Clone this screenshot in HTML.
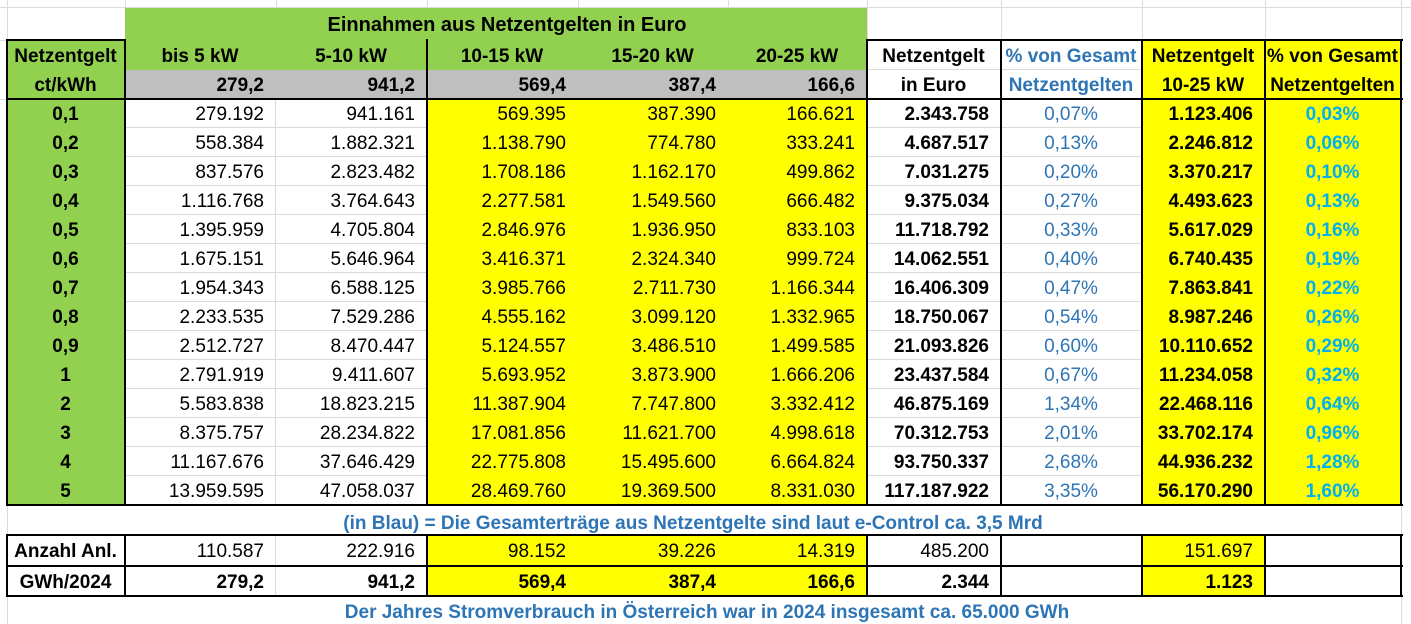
<!DOCTYPE html>
<html><head><meta charset="utf-8">
<style>
body{margin:0;width:1411px;height:624px;background:#fff;position:relative;overflow:hidden;font-family:"Liberation Sans",Arial,sans-serif;}
.grid{position:absolute;background:#dcdcdc;}
table{position:absolute;left:7px;top:40px;border-collapse:separate;border-spacing:0;table-layout:fixed;width:1394px;font-size:19px;}
td{padding:4px 11px 0 11px;white-space:nowrap;overflow:hidden;box-sizing:border-box;border-right:1px solid #dadada;border-bottom:1px solid #dadada;}
.g{background:#92d050;border-color:transparent;}
.y{background:#ffff00;border-color:transparent;}
.gr{background:#bfbfbf;border-color:transparent;}
.b{font-weight:bold;}
.c{text-align:center;}
.r{text-align:right;}
.bl{color:#2e75b6;}
.cy{color:#00b0f0;font-weight:bold;text-align:center;}
.h{position:absolute;background:#000;height:2px;}
.v{position:absolute;background:#000;width:2px;}
.note{position:absolute;font-weight:bold;color:#2e75b6;font-size:19px;white-space:nowrap;transform:translateX(-50%);}
</style></head><body>
<div class="grid" style="left:0;top:7px;width:1411px;height:1px"></div>
<div class="grid" style="left:7px;top:0;width:1px;height:40px"></div>
<div class="grid" style="left:125px;top:0;width:1px;height:8px"></div>
<div class="grid" style="left:276px;top:0;width:1px;height:8px"></div>
<div class="grid" style="left:427px;top:0;width:1px;height:8px"></div>
<div class="grid" style="left:578px;top:0;width:1px;height:8px"></div>
<div class="grid" style="left:728px;top:0;width:1px;height:8px"></div>
<div class="grid" style="left:867px;top:0;width:1px;height:40px"></div>
<div class="grid" style="left:1001px;top:0;width:1px;height:40px"></div>
<div class="grid" style="left:1142px;top:0;width:1px;height:40px"></div>
<div class="grid" style="left:1265px;top:0;width:1px;height:40px"></div>
<div class="grid" style="left:1401px;top:0;width:1px;height:624px"></div>
<div class="grid" style="left:0;top:40px;width:7px;height:1px"></div>
<div class="grid" style="left:0;top:99px;width:7px;height:1px"></div>
<div class="grid" style="left:7px;top:505px;width:1px;height:119px"></div>
<div style="position:absolute;left:125px;top:8px;width:742px;height:32px;background:#92d050"></div>
<div class="note" style="left:507px;top:14px;color:#000;font-size:20px">Einnahmen aus Netzentgelten in Euro</div>

<table>
<colgroup><col style="width:118px"><col style="width:151px"><col style="width:151px"><col style="width:151px"><col style="width:150px"><col style="width:139px"><col style="width:134px"><col style="width:141px"><col style="width:123px"><col style="width:136px"></colgroup>
<tr style="height:30px"><td class="g b c" style="padding:4px 0 0 0">Netzentgelt</td><td class="g b c">bis 5 kW</td><td class="g b c">5-10 kW</td><td class="g b c">10-15 kW</td><td class="g b c">15-20 kW</td><td class="g b c">20-25 kW</td><td class="b c">Netzentgelt</td><td class="b c bl" style="padding:4px 0 0 0">% von Gesamt</td><td class="y b c" style="padding:4px 0 0 0">Netzentgelt</td><td class="y b c" style="padding:4px 0 0 0">% von Gesamt</td></tr>
<tr style="height:29px"><td class="g b c">ct/kWh</td><td class="gr b r">279,2</td><td class="gr b r">941,2</td><td class="gr b r">569,4</td><td class="gr b r">387,4</td><td class="gr b r">166,6</td><td class="b c">in Euro</td><td class="b c bl" style="padding:4px 0 0 0">Netzentgelten</td><td class="y b c" style="padding:4px 0 0 0">10-25 kW</td><td class="y b c" style="padding:4px 0 0 0">Netzentgelten</td></tr>
<tr style="height:29px"><td class="g b c">0,1</td><td class="r">279.192</td><td class="r">941.161</td><td class="y r">569.395</td><td class="y r">387.390</td><td class="y r">166.621</td><td class="b r">2.343.758</td><td class="c bl">0,07%</td><td class="y b r">1.123.406</td><td class="y cy">0,03%</td></tr>
<tr style="height:29px"><td class="g b c">0,2</td><td class="r">558.384</td><td class="r">1.882.321</td><td class="y r">1.138.790</td><td class="y r">774.780</td><td class="y r">333.241</td><td class="b r">4.687.517</td><td class="c bl">0,13%</td><td class="y b r">2.246.812</td><td class="y cy">0,06%</td></tr>
<tr style="height:29px"><td class="g b c">0,3</td><td class="r">837.576</td><td class="r">2.823.482</td><td class="y r">1.708.186</td><td class="y r">1.162.170</td><td class="y r">499.862</td><td class="b r">7.031.275</td><td class="c bl">0,20%</td><td class="y b r">3.370.217</td><td class="y cy">0,10%</td></tr>
<tr style="height:29px"><td class="g b c">0,4</td><td class="r">1.116.768</td><td class="r">3.764.643</td><td class="y r">2.277.581</td><td class="y r">1.549.560</td><td class="y r">666.482</td><td class="b r">9.375.034</td><td class="c bl">0,27%</td><td class="y b r">4.493.623</td><td class="y cy">0,13%</td></tr>
<tr style="height:29px"><td class="g b c">0,5</td><td class="r">1.395.959</td><td class="r">4.705.804</td><td class="y r">2.846.976</td><td class="y r">1.936.950</td><td class="y r">833.103</td><td class="b r">11.718.792</td><td class="c bl">0,33%</td><td class="y b r">5.617.029</td><td class="y cy">0,16%</td></tr>
<tr style="height:29px"><td class="g b c">0,6</td><td class="r">1.675.151</td><td class="r">5.646.964</td><td class="y r">3.416.371</td><td class="y r">2.324.340</td><td class="y r">999.724</td><td class="b r">14.062.551</td><td class="c bl">0,40%</td><td class="y b r">6.740.435</td><td class="y cy">0,19%</td></tr>
<tr style="height:29px"><td class="g b c">0,7</td><td class="r">1.954.343</td><td class="r">6.588.125</td><td class="y r">3.985.766</td><td class="y r">2.711.730</td><td class="y r">1.166.344</td><td class="b r">16.406.309</td><td class="c bl">0,47%</td><td class="y b r">7.863.841</td><td class="y cy">0,22%</td></tr>
<tr style="height:29px"><td class="g b c">0,8</td><td class="r">2.233.535</td><td class="r">7.529.286</td><td class="y r">4.555.162</td><td class="y r">3.099.120</td><td class="y r">1.332.965</td><td class="b r">18.750.067</td><td class="c bl">0,54%</td><td class="y b r">8.987.246</td><td class="y cy">0,26%</td></tr>
<tr style="height:29px"><td class="g b c">0,9</td><td class="r">2.512.727</td><td class="r">8.470.447</td><td class="y r">5.124.557</td><td class="y r">3.486.510</td><td class="y r">1.499.585</td><td class="b r">21.093.826</td><td class="c bl">0,60%</td><td class="y b r">10.110.652</td><td class="y cy">0,29%</td></tr>
<tr style="height:29px"><td class="g b c">1</td><td class="r">2.791.919</td><td class="r">9.411.607</td><td class="y r">5.693.952</td><td class="y r">3.873.900</td><td class="y r">1.666.206</td><td class="b r">23.437.584</td><td class="c bl">0,67%</td><td class="y b r">11.234.058</td><td class="y cy">0,32%</td></tr>
<tr style="height:29px"><td class="g b c">2</td><td class="r">5.583.838</td><td class="r">18.823.215</td><td class="y r">11.387.904</td><td class="y r">7.747.800</td><td class="y r">3.332.412</td><td class="b r">46.875.169</td><td class="c bl">1,34%</td><td class="y b r">22.468.116</td><td class="y cy">0,64%</td></tr>
<tr style="height:29px"><td class="g b c">3</td><td class="r">8.375.757</td><td class="r">28.234.822</td><td class="y r">17.081.856</td><td class="y r">11.621.700</td><td class="y r">4.998.618</td><td class="b r">70.312.753</td><td class="c bl">2,01%</td><td class="y b r">33.702.174</td><td class="y cy">0,96%</td></tr>
<tr style="height:29px"><td class="g b c">4</td><td class="r">11.167.676</td><td class="r">37.646.429</td><td class="y r">22.775.808</td><td class="y r">15.495.600</td><td class="y r">6.664.824</td><td class="b r">93.750.337</td><td class="c bl">2,68%</td><td class="y b r">44.936.232</td><td class="y cy">1,28%</td></tr>
<tr style="height:29px"><td class="g b c">5</td><td class="r">13.959.595</td><td class="r">47.058.037</td><td class="y r">28.469.760</td><td class="y r">19.369.500</td><td class="y r">8.331.030</td><td class="b r">117.187.922</td><td class="c bl">3,35%</td><td class="y b r">56.170.290</td><td class="y cy">1,60%</td></tr>
<tr style="height:30px"><td colspan="10" style="border-right:none"></td></tr>
<tr style="height:31px"><td class="b c" style="padding:4px 0 0 0">Anzahl Anl.</td><td class="r">110.587</td><td class="r">222.916</td><td class="y r">98.152</td><td class="y r">39.226</td><td class="y r">14.319</td><td class="r">485.200</td><td></td><td class="y r">151.697</td><td></td></tr>
<tr style="height:30px"><td class="b c">GWh/2024</td><td class="b r">279,2</td><td class="b r">941,2</td><td class="y b r">569,4</td><td class="y b r">387,4</td><td class="y b r">166,6</td><td class="b r">2.344</td><td></td><td class="y b r">1.123</td><td></td></tr>
</table>

<div class="note" style="left:693px;top:513px">(in Blau) = Die Gesamterträge aus Netzentgelte sind laut e-Control ca. 3,5 Mrd</div>
<div class="note" style="left:707px;top:602px">Der Jahres Stromverbrauch in Österreich war in 2024 insgesamt ca. 65.000 GWh</div>

<div class="h" style="left:6px;top:39px;width:120px"></div>
<div class="h" style="left:866px;top:39px;width:537px"></div>
<div class="h" style="left:6px;top:98px;width:1397px"></div>
<div class="h" style="left:6px;top:504px;width:1397px"></div>
<div class="h" style="left:6px;top:534px;width:1397px"></div>
<div class="h" style="left:6px;top:565px;width:1397px"></div>
<div class="h" style="left:6px;top:595px;width:1397px"></div>

<div class="v" style="left:6px;top:39px;height:467px"></div>
<div class="v" style="left:124px;top:39px;height:467px"></div>
<div class="v" style="left:426px;top:39px;height:467px"></div>
<div class="v" style="left:866px;top:39px;height:467px"></div>
<div class="v" style="left:1000px;top:39px;height:467px"></div>
<div class="v" style="left:1141px;top:39px;height:467px"></div>
<div class="v" style="left:1264px;top:39px;height:467px"></div>
<div class="v" style="left:1400px;top:39px;height:467px"></div>

<div class="v" style="left:6px;top:534px;height:63px"></div>
<div class="v" style="left:124px;top:534px;height:63px"></div>
<div class="v" style="left:426px;top:534px;height:63px"></div>
<div class="v" style="left:866px;top:534px;height:63px"></div>
<div class="v" style="left:1000px;top:534px;height:63px"></div>
<div class="v" style="left:1141px;top:534px;height:63px"></div>
<div class="v" style="left:1264px;top:534px;height:63px"></div>
<div class="v" style="left:1400px;top:534px;height:63px"></div>
</body></html>
